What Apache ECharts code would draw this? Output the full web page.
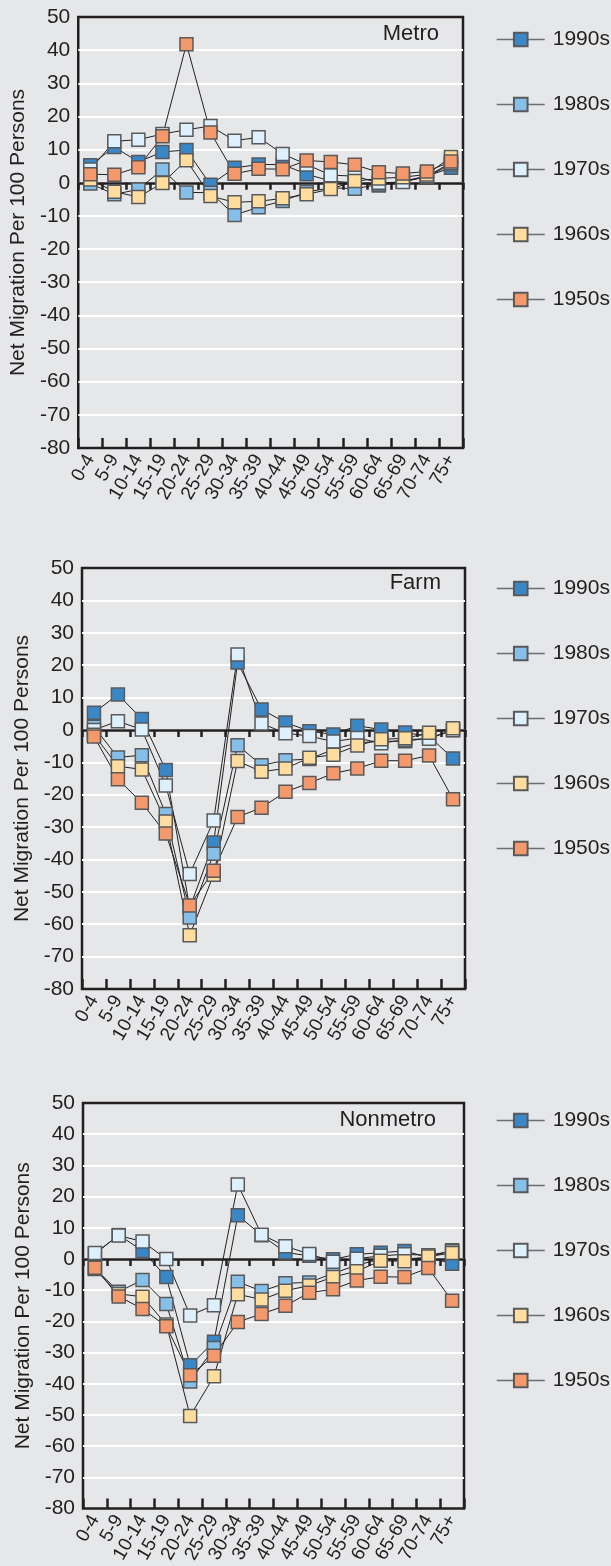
<!DOCTYPE html>
<html>
<head>
<meta charset="utf-8">
<title>Net migration by age</title>
<script src="https://cdn.jsdelivr.net/npm/echarts@6/dist/echarts.min.js"></script>
<style>
  html, body { margin: 0; padding: 0; background: #e6e7e8; }
  #chart { width: 611px; height: 1566px; }
</style>
</head>
<body>
<div id="chart"></div>
<script>
// age groups on the x axis
const ages = ['0-4', '5-9', '10-14', '15-19', '20-24', '25-29', '30-34', '35-39',
  '40-44', '45-49', '50-54', '55-59', '60-64', '65-69', '70-74', '75+']
const decades = ['1990s', '1980s', '1970s', '1960s', '1950s']

// Metro
const metro1990s = [5.3, 10.8, 6.3, 9.3, 9.9, -0.6, 4.5, 5.5, 5.5, 2.6, 0.5, 0, -0.8, 0.5, 2, 4.5]
const metro1980s = [-0.2, -3.5, -2.0, 4.0, -2.9, -3, -9.7, -7.4, -5.5, -2.8, -1.5, -1.8, -0.5, 0.3, 1.8, 5.5]
const metro1970s = [4, 12.5, 13.0, 14.7, 16.0, 17.1, 12.7, 13.7, 8.7, 5.5, 2.3, 2, 0, 0.2, 2, 6]
const metro1960s = [1.0, -2.7, -4.3, -0.1, 6.8, -4.0, -5.9, -5.6, -4.7, -3.5, -1.9, 0.5, 1.3, 1.7, 2.5, 7.8]
const metro1950s = [2.6, 2.4, 4.7, 14.0, 41.8, 15.2, 2.7, 4.2, 4.1, 6.7, 6.3, 5.4, 3.2, 2.8, 3.4, 6.4]

// Farm
const farm1990s = [5.3, 10.9, 3.4, -12.4, -55, -34.8, 20.8, 6.3, 2.3, -0.4, -1.4, 1.3, 0.1, -0.8, -2, -8.8]
const farm1980s = [1.0, -8.5, -7.8, -26.0, -57.9, -38.2, -4.7, -10.9, -9.4, -9.0, -6, -4, -3.5, -3.5, -2.5, 0]
const farm1970s = [0.0, 2.7, 0.1, -17.2, -44.5, -28.0, 23.3, 2.0, -1.0, -1.9, -3.6, -2.5, -4.1, -3, -2.7, -0.1]
const farm1960s = [-1.5, -11.2, -12.2, -28.3, -63.4, -44.7, -9.6, -12.9, -11.9, -8.6, -7.7, -4.8, -2.9, -2.6, -0.9, 0.5]
const farm1950s = [-2.0, -15.2, -22.5, -32.0, -54.2, -43.5, -26.9, -24.0, -19.1, -16.4, -13.4, -11.9, -9.5, -9.5, -7.9, -21.4]

// Nonmetro
const nonmetro1990s = [1.6, 7.7, 2.6, -5.8, -34.1, -26.5, 14.0, 7.6, 2.1, 1.0, -0.1, 1.5, 2.0, 2.6, 0.5, -1.5]
const nonmetro1980s = [-3, -10.5, -6.7, -14.4, -39.3, -28.5, -7.3, -10.3, -7.8, -7.5, -4.6, -2, 0, 0, 0.5, 2.8]
const nonmetro1970s = [1.9, 7.5, 5.6, 0.0, -18.1, -14.8, 23.9, 7.8, 4.1, 1.6, -0.9, 0.1, 1.0, 1.5, 1.2, 2.5]
const nonmetro1960s = [-3.2, -11.2, -12.1, -21, -50.3, -37.6, -11.3, -13.0, -10.2, -8.5, -5.8, -3.9, -0.6, -0.7, 0.8, 1.9]
const nonmetro1950s = [-2.8, -12.0, -16.0, -21.6, -37.3, -31.0, -20.2, -17.6, -15.0, -10.8, -9.7, -6.9, -5.7, -5.8, -2.9, -13.4]

const font = '"Liberation Sans", Arial, sans-serif'
const ink = '#231f20'
const fills = ['#3a87c8', '#86bfe8', '#ddf0fb', '#fedd9e', '#f4996b']

const panels = [
  { name: 'Metro', rows: [metro1990s, metro1980s, metro1970s, metro1960s, metro1950s],
    grid: { left: 71, top: 17, width: 392, height: 431 }, nameGap: 43,
    titleRight: 172, titleTop: 23, legendTop: 29 },
  { name: 'Farm', rows: [farm1990s, farm1980s, farm1970s, farm1960s, farm1950s],
    grid: { left: 82, top: 568, width: 383, height: 421 }, nameGap: 48,
    titleRight: 170, titleTop: 572, legendTop: 578 },
  { name: 'Nonmetro', rows: [nonmetro1990s, nonmetro1980s, nonmetro1970s, nonmetro1960s, nonmetro1950s],
    grid: { left: 83, top: 1103, width: 381, height: 421 }, nameGap: 46,
    titleRight: 175, titleTop: 1109, legendTop: 1110 }
]

const chart = echarts.init(document.getElementById('chart'), null, { renderer: 'canvas' })

const xAxis = []
const yAxis = []
const series = []
panels.forEach((p, i) => {
  // bottom axis: labels and ticks pointing up from the frame
  xAxis.push({
    type: 'category',
    gridIndex: i,
    data: ages,
    position: 'bottom',
    axisLine: { show: false, onZero: false },
    axisTick: { show: true, inside: true, length: 10, interval: 0, lineStyle: { color: ink, width: 2.5 } },
    axisLabel: { interval: 0, rotate: 60, margin: 8, fontSize: 19, color: ink, fontFamily: font },
    splitLine: { show: false }
  })
  // zero line with short ticks hanging down
  xAxis.push({
    type: 'category',
    gridIndex: i,
    data: ages,
    position: 'top',
    axisLine: { show: true, onZero: true, lineStyle: { color: ink, width: 2.5 } },
    axisTick: { show: true, inside: true, length: 7, interval: 0, lineStyle: { color: ink, width: 2.5 } },
    axisLabel: { show: false },
    splitLine: { show: false }
  })
  yAxis.push({
    type: 'value',
    gridIndex: i,
    min: -80,
    max: 50,
    interval: 10,
    name: 'Net Migration Per 100 Persons',
    nameLocation: 'middle',
    nameGap: p.nameGap,
    nameTextStyle: { fontSize: 21, color: ink, fontFamily: font },
    axisLine: { show: false },
    axisTick: { show: false },
    axisLabel: { fontSize: 21, color: ink, margin: 8, fontFamily: font },
    splitLine: { show: true, showMinLine: false, showMaxLine: false, lineStyle: { color: '#ffffff', width: 2 } }
  })
  decades.forEach((d, j) => {
    series.push({
      name: d,
      type: 'line',
      xAxisIndex: i * 2,
      yAxisIndex: i,
      data: p.rows[j],
      symbol: 'rect',
      symbolSize: 13,
      lineStyle: { color: ink, width: 1 },
      itemStyle: { color: fills[j], borderColor: '#58595b', borderWidth: 1.5 },
      emphasis: { disabled: true },
      z: 2
    })
  })
})

chart.setOption({
  backgroundColor: '#e6e7e8',
  animation: false,
  textStyle: { fontFamily: font },
  title: panels.map(p => ({
    text: p.name,
    right: p.titleRight,
    top: p.titleTop,
    padding: 0,
    textStyle: { fontSize: 22, fontWeight: 'normal', color: ink, fontFamily: font }
  })),
  legend: panels.map(p => ({
    data: decades,
    orient: 'vertical',
    left: 496,
    top: p.legendTop,
    padding: 0,
    itemWidth: 48,
    itemHeight: 17,
    itemGap: 44,
    selectedMode: false,
    lineStyle: { color: '#6d6e71', width: 1.5 },
    textStyle: { fontSize: 21, color: ink, fontFamily: font, padding: [0, 0, 0, 3] }
  })),
  grid: panels.map(p => Object.assign({}, p.grid, {
    show: true,
    borderColor: ink,
    borderWidth: 2.5,
    backgroundColor: 'transparent',
    containLabel: false
  })),
  xAxis: xAxis,
  yAxis: yAxis,
  series: series
})
</script>
</body>
</html>
